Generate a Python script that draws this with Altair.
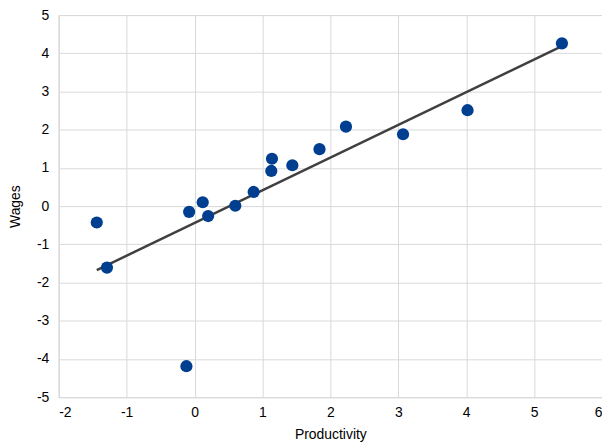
import altair as alt
import pandas as pd

productivity = [-1.44, -1.29, -0.12, -0.08, 0.12, 0.20, 0.60, 0.87, 1.14, 1.13, 1.44, 1.84, 2.23, 3.07, 4.02, 5.41]
wages = [-0.43, -1.61, -4.19, -0.15, 0.10, -0.26, 0.01, 0.37, 1.24, 0.92, 1.07, 1.49, 2.08, 1.88, 2.51, 4.26]

df = pd.DataFrame({"Productivity": productivity, "Wages": wages})

FONT = "Liberation Sans"

x = alt.X("Productivity:Q", scale=alt.Scale(domain=[-2, 6], nice=False),
          axis=alt.Axis(values=list(range(-2, 7)), title="Productivity", grid=True,
                        ticks=False, labelPadding=8, titlePadding=9,
                        labelExpr="'' + datum.value"))
y = alt.Y("Wages:Q", scale=alt.Scale(domain=[-5, 5], nice=False),
          axis=alt.Axis(values=list(range(-5, 6)), title="Wages", grid=True,
                        ticks=False, labelPadding=10, titlePadding=14,
                        labelExpr="'' + datum.value"))

points = alt.Chart(df).mark_circle(size=150, color="#003F8F", opacity=1).encode(x=x, y=y)

trend = alt.Chart(df).transform_regression("Productivity", "Wages").mark_line(
    color="#404040", strokeWidth=2.5).encode(x=x, y=y)

chart = alt.layer(trend, points).properties(
    width=546, height=384,
    autosize=alt.AutoSizeParams(type="none"),
    padding={"left": 51, "top": 6, "right": 0, "bottom": 46},
).configure_axis(
    gridColor="#D9D9D9", gridWidth=1, domainColor="#D9D9D9", domainWidth=1,
    labelFont=FONT, labelFontSize=14, labelColor="#000000",
    titleFont=FONT, titleFontSize=14, titleFontWeight="normal", titleColor="#000000",
).configure_view(stroke="#D9D9D9", strokeWidth=1)

chart.save("out.html", embed_options={"renderer": "svg", "actions": False})
